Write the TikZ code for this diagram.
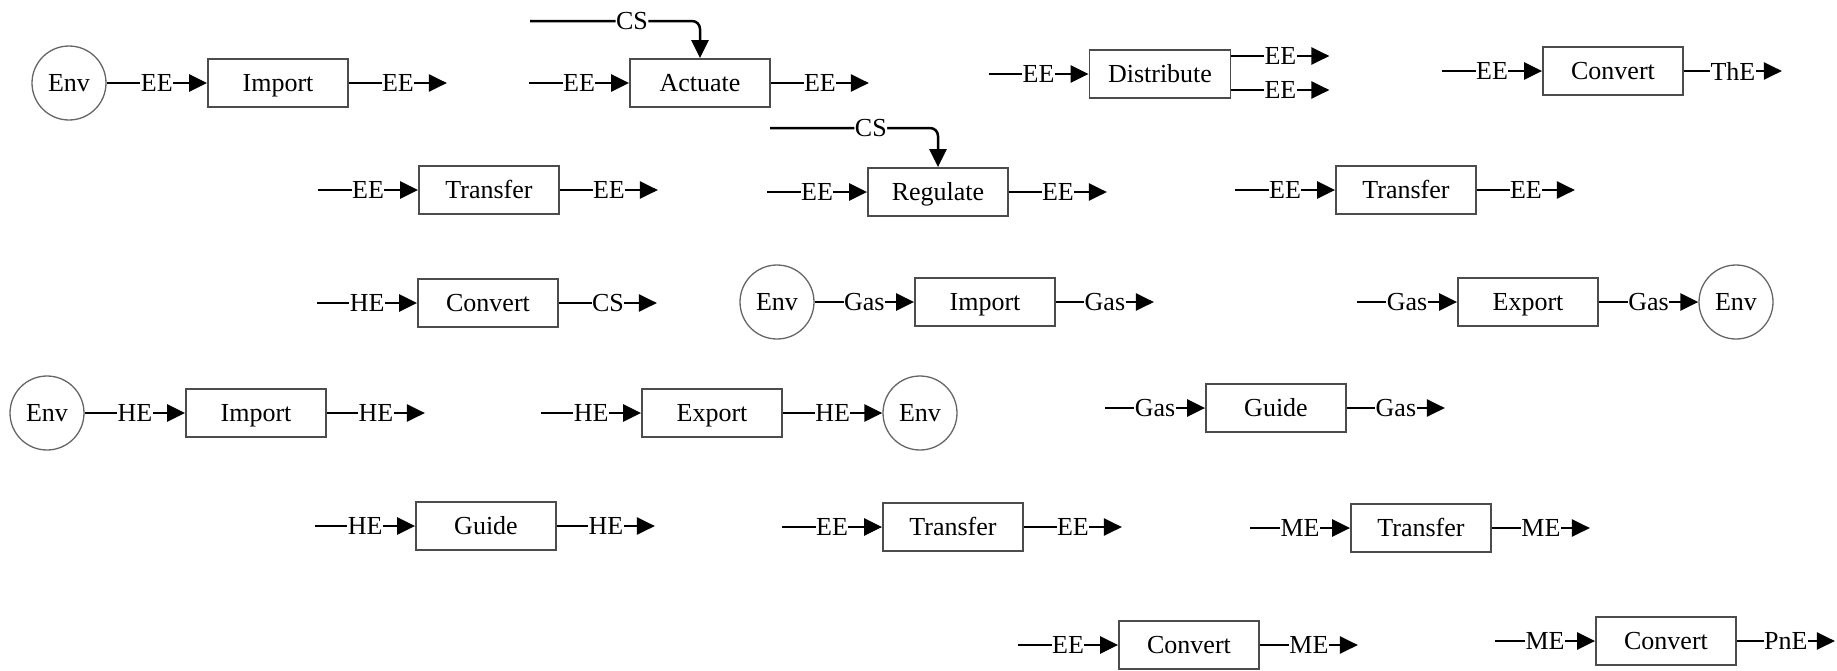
\documentclass[tikz,border=0pt]{standalone}
\usepackage{fontspec}
\setmainfont{Liberation Serif}
\usetikzlibrary{arrows.meta}
\usetikzlibrary{positioning}

\begin{document}
\begin{tikzpicture}[x = 1pt, y = -1pt,
    font = \rmfamily\fontsize{26}{30}\selectfont,
    func/.style = {draw = black!70, line width = 1.8pt, minimum width = 140pt,
        minimum height = 48pt, text height = 17pt, text depth = 0pt, inner sep = 0},
    env/.style = {circle, draw = black!60, line width = 1.3pt, minimum size = 74pt, inner sep = 0},
    flow/.style = {-{Triangle[length = 18pt, width = 17pt]}, line width = 2.5pt},
    lab/.style = {fill = white, inner sep = 0.5pt}]
    \useasboundingbox (0, 0) rectangle (1837, 670);

    %% row 1
    \node[env] (env1) at (69, 83) {Env};
    \node[func] (imp1) at (278, 83) {Import};
    \coordinate[right = 98pt of imp1] (imp1o);
    \draw[flow] (env1) -- node[lab] {EE} (imp1);
    \draw[flow] (imp1) -- node[lab] {EE} (imp1o);

    \node[func] (act) at (700, 83) {Actuate};
    \coordinate[left = 100pt of act] (acti);
    \coordinate[right = 98pt of act] (acto);
    \coordinate (actc) at (530, 21);
    \draw[flow] (acti) -- node[lab] {EE} (act);
    \draw[flow] (act) -- node[lab] {EE} (acto);
    \draw[flow, rounded corners = 8pt] (actc) -| node[lab, pos = 0.3] {CS} (act.north);

    \node[func, minimum width = 141pt] (dist) at (1160, 74) {Distribute};
    \coordinate[left = 100pt of dist] (disti);
    \coordinate (dist1) at ([yshift = 18pt]dist.east);
    \coordinate (dist2) at ([yshift = -16pt]dist.east);
    \coordinate[right = 98pt of dist1] (dist1o);
    \coordinate[right = 98pt of dist2] (dist2o);
    \draw[flow] (disti) -- node[lab] {EE} (dist);
    \draw[flow] (dist1) -- node[lab] {EE} (dist1o);
    \draw[flow] (dist2) -- node[lab] {EE} (dist2o);

    \node[func] (conv1) at (1613, 71) {Convert};
    \coordinate[left = 100pt of conv1] (conv1i);
    \coordinate[right = 98pt of conv1] (conv1o);
    \draw[flow] (conv1i) -- node[lab] {EE} (conv1);
    \draw[flow] (conv1) -- node[lab] {ThE} (conv1o);

    %% row 2
    \node[func] (tr1) at (489, 190) {Transfer};
    \coordinate[left = 100pt of tr1] (tr1i);
    \coordinate[right = 98pt of tr1] (tr1o);
    \draw[flow] (tr1i) -- node[lab] {EE} (tr1);
    \draw[flow] (tr1) -- node[lab] {EE} (tr1o);

    \node[func] (reg) at (938, 192) {Regulate};
    \coordinate[left = 100pt of reg] (regi);
    \coordinate[right = 98pt of reg] (rego);
    \coordinate (regc) at (770, 128);
    \draw[flow] (regi) -- node[lab] {EE} (reg);
    \draw[flow] (reg) -- node[lab] {EE} (rego);
    \draw[flow, rounded corners = 8pt] (regc) -| node[lab, pos = 0.3] {CS} (reg.north);

    \node[func] (tr2) at (1406, 190) {Transfer};
    \coordinate[left = 100pt of tr2] (tr2i);
    \coordinate[right = 98pt of tr2] (tr2o);
    \draw[flow] (tr2i) -- node[lab] {EE} (tr2);
    \draw[flow] (tr2) -- node[lab] {EE} (tr2o);

    %% row 3
    \node[func] (conv2) at (488, 303) {Convert};
    \coordinate[left = 100pt of conv2] (conv2i);
    \coordinate[right = 98pt of conv2] (conv2o);
    \draw[flow] (conv2i) -- node[lab] {HE} (conv2);
    \draw[flow] (conv2) -- node[lab] {CS} (conv2o);

    \node[env] (env3) at (777, 302) {Env};
    \node[func] (imp3) at (985, 302) {Import};
    \coordinate[right = 98pt of imp3] (imp3o);
    \draw[flow] (env3) -- node[lab] {Gas} (imp3);
    \draw[flow] (imp3) -- node[lab] {Gas} (imp3o);

    \node[func] (exp3) at (1528, 302) {Export};
    \node[env] (env3b) at (1736, 302) {Env};
    \coordinate[left = 100pt of exp3] (exp3i);
    \draw[flow] (exp3i) -- node[lab] {Gas} (exp3);
    \draw[flow] (exp3) -- node[lab] {Gas} (env3b);

    %% row 4
    \node[env] (env4) at (47, 413) {Env};
    \node[func] (imp4) at (256, 413) {Import};
    \coordinate[right = 98pt of imp4] (imp4o);
    \draw[flow] (env4) -- node[lab] {HE} (imp4);
    \draw[flow] (imp4) -- node[lab] {HE} (imp4o);

    \node[func] (exp4) at (712, 413) {Export};
    \node[env] (env4b) at (920, 413) {Env};
    \coordinate[left = 100pt of exp4] (exp4i);
    \draw[flow] (exp4i) -- node[lab] {HE} (exp4);
    \draw[flow] (exp4) -- node[lab] {HE} (env4b);

    \node[func] (gui1) at (1276, 408) {Guide};
    \coordinate[left = 100pt of gui1] (gui1i);
    \coordinate[right = 98pt of gui1] (gui1o);
    \draw[flow] (gui1i) -- node[lab] {Gas} (gui1);
    \draw[flow] (gui1) -- node[lab] {Gas} (gui1o);

    %% row 5
    \node[func] (gui2) at (486, 526) {Guide};
    \coordinate[left = 100pt of gui2] (gui2i);
    \coordinate[right = 98pt of gui2] (gui2o);
    \draw[flow] (gui2i) -- node[lab] {HE} (gui2);
    \draw[flow] (gui2) -- node[lab] {HE} (gui2o);

    \node[func] (tr4) at (953, 527) {Transfer};
    \coordinate[left = 100pt of tr4] (tr4i);
    \coordinate[right = 98pt of tr4] (tr4o);
    \draw[flow] (tr4i) -- node[lab] {EE} (tr4);
    \draw[flow] (tr4) -- node[lab] {EE} (tr4o);

    \node[func] (tr5) at (1421, 528) {Transfer};
    \coordinate[left = 100pt of tr5] (tr5i);
    \coordinate[right = 98pt of tr5] (tr5o);
    \draw[flow] (tr5i) -- node[lab] {ME} (tr5);
    \draw[flow] (tr5) -- node[lab] {ME} (tr5o);

    %% row 6
    \node[func] (conv6) at (1189, 645) {Convert};
    \coordinate[left = 100pt of conv6] (conv6i);
    \coordinate[right = 98pt of conv6] (conv6o);
    \draw[flow] (conv6i) -- node[lab] {EE} (conv6);
    \draw[flow] (conv6) -- node[lab] {ME} (conv6o);

    \node[func] (conv7) at (1666, 641) {Convert};
    \coordinate[left = 100pt of conv7] (conv7i);
    \coordinate[right = 98pt of conv7] (conv7o);
    \draw[flow] (conv7i) -- node[lab] {ME} (conv7);
    \draw[flow] (conv7) -- node[lab] {PnE} (conv7o);
\end{tikzpicture}
\end{document}
